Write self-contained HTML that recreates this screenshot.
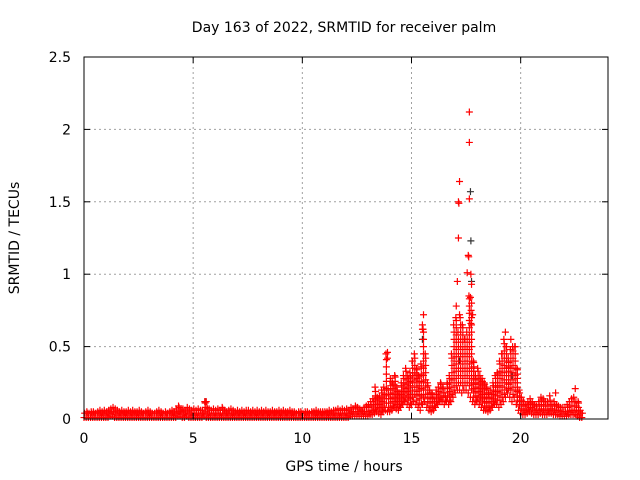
<!DOCTYPE html>
<html><head><meta charset="utf-8"><style>
body{margin:0;background:#fff}
svg{display:block;font-family:"DejaVu Sans","Liberation Sans",sans-serif}
</style></head><body>
<svg id="chart" width="640" height="480">
<rect width="640" height="480" fill="#fff"/>
<text x="344" y="32" text-anchor="middle" font-size="14">Day 163 of 2022, SRMTID for receiver palm</text>
<text x="344" y="471" text-anchor="middle" font-size="14">GPS time / hours</text>
<text transform="translate(19,238) rotate(-90)" text-anchor="middle" font-size="14">SRMTID / TECUs</text>
<g id="grid"></g><g id="marks"></g><g id="axes"></g>
</svg>
<script>
const xTicks=[0,5,10,15,20];
const yTicks=[0,0.5,1,1.5,2,2.5];
const yTickLabels=["0","0.5","1","1.5","2","2.5"];
const upper=[.04,.05,.04,.05,.05,.04,.05,.06,.05,.06,
.05,.06,.07,.08,.07,.06,.05,.06,.05,.05,
.06,.05,.06,.05,.05,.06,.05,.04,.05,.06,
.05,.04,.04,.05,.06,.05,.04,.05,.04,.05,
.06,.05,.07,.09,.06,.07,.06,.08,.07,.06,
.07,.06,.07,.06,.06,.12,.08,.07,.06,.07,
.06,.07,.06,.08,.06,.05,.06,.07,.06,.05,
.06,.05,.06,.05,.06,.06,.05,.06,.05,.06,
.05,.06,.05,.06,.05,.05,.06,.05,.05,.06,
.05,.06,.05,.05,.06,.05,.05,.04,.05,.05,
.04,.05,.05,.04,.05,.05,.06,.05,.05,.05,
.05,.05,.06,.05,.06,.06,.07,.06,.07,.06,
.07,.06,.08,.07,.09,.08,.07,.06,.08,.09,
.10,.12,.14,.22,.15,.16,.20,.22,.45,.20,
.28,.25,.30,.22,.18,.25,.30,.35,.30,.32,
.40,.45,.35,.30,.38,.62,.45,.25,.20,.18,
.15,.20,.22,.25,.22,.18,.25,.30,.45,.65,
.70,.60,.70,.65,.55,.60,.85,.75,.40,.30,
.35,.30,.28,.25,.22,.18,.20,.25,.30,.32,
.40,.45,.55,.50,.42,.48,.50,.50,.35,.20,
.15,.12,.10,.12,.14,.12,.10,.09,.12,.15,
.14,.12,.12,.16,.10,.12,.10,.09,.08,.08,
.08,.10,.12,.14,.15,.12,.12,.06,.04];
const lower=[.01,.01,.01,.01,.01,.01,.01,.01,.01,.01,
.01,.01,.02,.02,.01,.01,.01,.01,.01,.01,
.01,.01,.01,.01,.01,.01,.01,.01,.01,.01,
.01,.01,.01,.01,.01,.01,.01,.01,.01,.01,
.01,.01,.01,.02,.02,.01,.01,.02,.01,.01,
.01,.01,.01,.01,.01,.02,.01,.01,.01,.01,
.01,.01,.01,.01,.01,.01,.01,.01,.01,.01,
.01,.01,.01,.01,.01,.01,.01,.01,.01,.01,
.01,.01,.01,.01,.01,.01,.01,.01,.01,.01,
.01,.01,.01,.01,.01,.01,.01,.01,.01,.01,
.01,.01,.01,.01,.01,.01,.01,.01,.01,.01,
.01,.01,.01,.01,.01,.01,.01,.01,.01,.01,
.01,.01,.02,.02,.02,.02,.02,.02,.02,.02,
.02,.03,.03,.04,.05,.04,.03,.05,.06,.05,
.05,.06,.08,.07,.06,.08,.10,.12,.10,.08,
.10,.12,.10,.08,.06,.10,.12,.08,.06,.05,
.06,.08,.10,.12,.12,.10,.12,.10,.12,.15,
.18,.20,.20,.18,.20,.20,.18,.15,.12,.10,
.12,.10,.08,.06,.06,.05,.06,.08,.10,.10,
.08,.10,.12,.15,.18,.15,.12,.15,.10,.06,
.04,.03,.03,.04,.05,.04,.03,.03,.03,.04,
.03,.03,.03,.04,.04,.03,.03,.03,.02,.02,
.02,.02,.03,.03,.03,.03,.02,.01,.01];
const outlierTimes=[17.15,17.15,17.2,17.17,17.65,17.65,17.65,17.6,17.62,17.55,17.72,17.75,17.1,17.05,17.2,17.75,17.8,15.55,15.5,15.5,13.9,13.9,19.3,19.55,21.6,22.5,5.6,17.7,17.72];
const outlierValues=[1.25,1.5,1.64,1.49,2.12,1.91,1.52,1.13,1.12,1.01,1.0,0.93,0.95,0.78,0.72,0.8,0.72,0.72,0.65,0.62,0.46,0.42,0.6,0.55,0.18,0.21,0.12,0.84,0.66];
const darkTimes=[17.7,17.72,17.75,15.5,17.2,19.6,5.55];
const darkValues=[1.57,1.23,0.95,0.55,0.4,0.3,0.12];

const L=84,R=608,T=57,B=419;
const xs=v=>L+v/24*(R-L);
const ys=v=>B-v/2.5*(B-T);
const NS="http://www.w3.org/2000/svg";
const grid=document.getElementById('grid'),marks=document.getElementById('marks'),axes=document.getElementById('axes');
function mk(tag,attrs,parent){const e=document.createElementNS(NS,tag);for(const k in attrs)e.setAttribute(k,attrs[k]);parent.appendChild(e);return e;}
xTicks.forEach(t=>{const x=xs(t);
 if(t>0){const g=mk('line',{x1:x,x2:x,y1:T,y2:B,stroke:'#a0a0a0','stroke-dasharray':'2,3'},grid);
 
 }
 mk('line',{x1:x,x2:x,y1:B,y2:B-6,stroke:'#000'},axes);mk('line',{x1:x,x2:x,y1:T,y2:T+6,stroke:'#000'},axes);
 const lb=mk('text',{x:x,y:443,'text-anchor':'middle','font-size':14},axes);lb.textContent=t;
 
 });
yTicks.forEach((t,i)=>{const y=ys(t);
 if(t>0&&t<2.5){const g=mk('line',{x1:L,x2:R,y1:y,y2:y,stroke:'#a0a0a0','stroke-dasharray':'2,3'},grid);
 
 }
 mk('line',{x1:L,x2:L+6,y1:y,y2:y,stroke:'#000'},axes);mk('line',{x1:R,x2:R-6,y1:y,y2:y,stroke:'#000'},axes);
 const lb=mk('text',{x:71,y:y+5,'text-anchor':'end','font-size':14},axes);lb.textContent=yTickLabels[i];
 
 });
const frame=mk('rect',{x:L,y:T,width:R-L,height:B-T,fill:'none',stroke:'#000'},axes);


function plus(t,v,col,name){const x=xs(t),y=ys(v);
 const p=mk('path',{d:`M${x-3.5},${y}h7M${x},${y-3.5}v7`,stroke:col,'stroke-width':1.2,fill:'none'},marks);
 
 }
darkTimes.forEach((t,i)=>plus(t,darkValues[i],'#333','dark-point'));
upper.forEach((u,i)=>{const t=i*0.1,lo=lower[i];
 plus(t,lo,'#f00','srmtid-point');
 const step=(u-lo)>0.3?0.05:0.03;
 for(let v=lo+step;v<u;v+=step)plus(t+0.05,v,'#f00','srmtid-point');
 plus(t+0.03,u,'#f00','srmtid-point');});
outlierTimes.forEach((t,i)=>plus(t,outlierValues[i],'#f00','srmtid-outlier'));
</script>
</body></html>
